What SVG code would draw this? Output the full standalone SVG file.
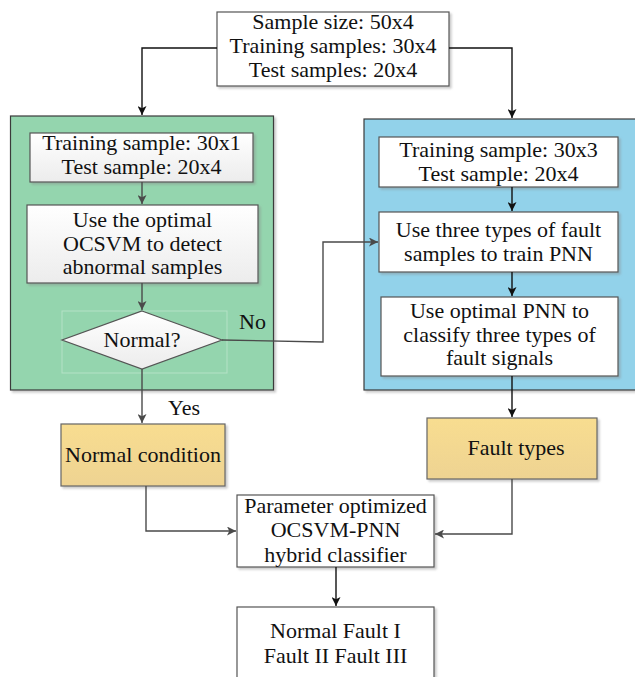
<svg xmlns="http://www.w3.org/2000/svg" width="635" height="677" viewBox="0 0 635 677">
<style>
text{font-family:'Liberation Serif','DejaVu Serif',serif;font-size:22px;fill:#111;text-anchor:middle}
.box{fill:#fff;stroke:#555;stroke-width:1.2}
.grad{fill:url(#gw);stroke:#555;stroke-width:1.2}
.gold{fill:url(#gy);stroke:#666;stroke-width:1.2}
.green{fill:#94d5ae;stroke:#3a3a3a;stroke-width:1.2}
.blue{fill:#92d2ea;stroke:#3a3a3a;stroke-width:1.2}
.c{fill:none;stroke:#111;stroke-width:1.4}
.g{fill:none;stroke:#4a4a4a;stroke-width:1.4}
</style>
<defs>
<linearGradient id="gw" x1="0" y1="0" x2="0" y2="1"><stop offset="0" stop-color="#ffffff"/><stop offset="1" stop-color="#ececec"/></linearGradient>
<linearGradient id="gy" x1="0" y1="0" x2="0" y2="1"><stop offset="0" stop-color="#f8dd90"/><stop offset="1" stop-color="#eed392"/></linearGradient>
<filter id="sh" x="-5%" y="-5%" width="115%" height="120%"><feDropShadow dx="2" dy="2" stdDeviation="1" flood-color="#888" flood-opacity="0.45"/></filter>
<marker id="ab" viewBox="0 0 10 10" refX="10" refY="5" markerWidth="9" markerHeight="9" markerUnits="userSpaceOnUse" orient="auto"><path d="M0,0 L10,5 L0,10 L2.5,5 z" fill="#111"/></marker>
<marker id="ag" viewBox="0 0 10 10" refX="10" refY="5" markerWidth="9" markerHeight="9" markerUnits="userSpaceOnUse" orient="auto"><path d="M0,0 L10,5 L0,10 L2.5,5 z" fill="#4a4a4a"/></marker>
</defs>

<g id="ocsvm-panel"><rect class="green" x="10.5" y="116" width="263" height="274" filter="url(#sh)"/></g>
<g id="pnn-panel"><rect class="blue" x="364" y="119" width="280" height="271" filter="url(#sh)"/></g>

<g id="top"><rect class="box" x="217" y="12" width="232" height="74" filter="url(#sh)"/>
<text x="333" y="29">Sample size: 50x4</text><text x="333" y="53">Training samples: 30x4</text><text x="333" y="77">Test samples: 20x4</text></g>

<g id="l1"><rect class="grad" x="30" y="133" width="223" height="49" filter="url(#sh)"/>
<text x="141.5" y="150">Training sample: 30x1</text><text x="141.5" y="174">Test sample: 20x4</text></g>
<g id="l2"><rect class="grad" x="27" y="205" width="231" height="78" filter="url(#sh)"/>
<text x="142.5" y="227">Use the optimal</text><text x="142.5" y="251">OCSVM to detect</text><text x="142.5" y="274">abnormal samples</text></g>
<g id="decision"><rect x="62" y="311" width="165" height="62" fill="none" stroke="#b4e2c6" stroke-width="1"/>
<polygon points="142,311 222,340 142,369 62,340" fill="url(#gw)" stroke="#555" stroke-width="1.2"/>
<text x="142" y="347">Normal?</text></g>

<g id="r1"><rect class="box" x="379" y="137" width="239" height="50" filter="url(#sh)"/>
<text x="498.5" y="157">Training sample: 30x3</text><text x="498.5" y="181">Test sample: 20x4</text></g>
<g id="r2"><rect class="box" x="379" y="212" width="239" height="60" filter="url(#sh)"/>
<text x="498.5" y="237">Use three types of fault</text><text x="498.5" y="261">samples to train PNN</text></g>
<g id="r3"><rect class="box" x="381" y="297" width="237" height="79" filter="url(#sh)"/>
<text x="499.5" y="318">Use optimal PNN to</text><text x="499.5" y="342">classify three types of</text><text x="499.5" y="365">fault signals</text></g>

<g id="normal"><rect class="gold" x="61" y="424" width="164" height="62" filter="url(#sh)"/>
<text x="143" y="462">Normal condition</text></g>
<g id="faults"><rect class="gold" x="427" y="418" width="170" height="61" filter="url(#sh)"/>
<text x="516" y="455">Fault types</text></g>

<g id="hybrid"><rect class="box" x="237" y="495" width="197" height="72" filter="url(#sh)"/>
<text x="335.5" y="513">Parameter optimized</text><text x="335.5" y="537">OCSVM-PNN</text><text x="335.5" y="562">hybrid classifier</text></g>
<g id="result"><rect class="box" x="237" y="607" width="197" height="85" filter="url(#sh)"/>
<text x="335.5" y="638">Normal Fault I</text><text x="335.5" y="663">Fault II Fault III</text></g>

<g id="connectors">
<path class="c" d="M217,48 H142 V115" marker-end="url(#ab)"/>
<path class="c" d="M449,48 H512 V118" marker-end="url(#ab)"/>
<path class="g" d="M142,182 V204" marker-end="url(#ag)"/>
<path class="g" d="M142,283 V310" marker-end="url(#ag)"/>
<path class="g" d="M142,369 V423" marker-end="url(#ag)"/>
<path class="g" d="M222,340 L323,342 V242 H378" marker-end="url(#ag)"/>
<path class="c" d="M512,187 V211" marker-end="url(#ab)"/>
<path class="c" d="M512,272 V296" marker-end="url(#ab)"/>
<path class="c" d="M512,376 V417" marker-end="url(#ab)"/>
<path class="g" d="M146,486 V531 H236" marker-end="url(#ag)"/>
<path class="g" d="M512,479 V534 H435" marker-end="url(#ag)"/>
<path class="c" d="M336,567 V606" marker-end="url(#ab)"/>
<text x="252.5" y="329">No</text>
<text x="184" y="415">Yes</text>
</g>
</svg>
